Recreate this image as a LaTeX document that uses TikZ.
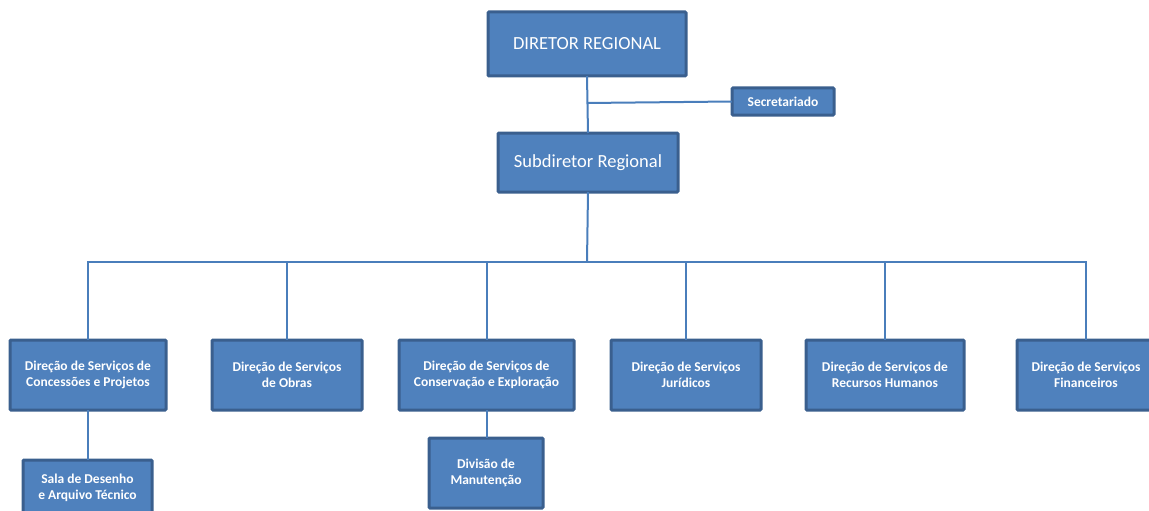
\documentclass[tikz,border=0pt]{standalone}
\usepackage{fontspec}
\setmainfont{Carlito}
\definecolor{boxfill}{HTML}{4F81BD}
\definecolor{boxedge}{HTML}{3A5F8E}
\definecolor{wire}{HTML}{4A7EBB}
\begin{document}
\begin{tikzpicture}[x=1pt,y=-1pt,
  orgbox/.style={draw=boxedge, fill=boxfill, line width=3pt, rounded corners=1pt,
    text=white, align=center, inner sep=0pt, outer sep=0pt},
  topbox/.style={orgbox, font=\fontsize{18.5}{22}\selectfont},
  unitbox/.style={orgbox, font=\bfseries\fontsize{13.5}{16}\selectfont, minimum height=70pt},
  wireline/.style={draw=wire, line width=2pt}]
\useasboundingbox (0,0) rectangle (1149,511);
\clip (0,0) rectangle (1149,511);
\node[topbox, minimum width=198pt, minimum height=64pt] (dir) at (587,44) {DIRETOR REGIONAL};
\node[orgbox, font=\bfseries\fontsize{13.5}{16}\selectfont, minimum width=102pt, minimum height=27pt] (sec) at (783,101.5) {Secretariado};
\node[topbox, minimum width=180pt, minimum height=59pt] (sub) at (588,162.5) {Subdiretor Regional};
\node[unitbox, minimum width=156pt] (b1) at (88,375) {Direção de Serviços de\\Concessões e Projetos};
\node[unitbox, minimum width=150pt] (b2) at (287,375) {Direção de Serviços\\de Obras};
\node[unitbox, minimum width=175pt] (b3) at (486.5,375) {Direção de Serviços de\\Conservação e Exploração};
\node[unitbox, minimum width=150pt] (b4) at (686,375) {Direção de Serviços\\Jurídicos};
\node[unitbox, minimum width=158pt] (b5) at (885,375) {Direção de Serviços de\\Recursos Humanos};
\node[unitbox, minimum width=138pt] (b6) at (1086,375) {Direção de Serviços\\Financeiros};
\node[unitbox, minimum width=129pt, minimum height=56pt] (sala) at (87.5,488) {Sala de Desenho\\e Arquivo Técnico};
\node[unitbox, minimum width=114pt] (div) at (486,473) {Divisão de\\Manutenção};
\coordinate (jsec) at (587,103);
\coordinate (bus) at (587,262);
\draw[wireline] (dir.south) -- (sub.north);
\draw[wireline] (jsec) -- (sec.west);
\draw[wireline] (sub.south) -- (bus);
\draw[wireline] (b1.north) |- (bus) -| (b6.north);
\foreach \b in {b2,b3,b4,b5} {\draw[wireline] (\b.north) -- (\b.north |- bus);}
\draw[wireline] (b1.south) -- (b1.south |- sala.north);
\draw[wireline] (b3.south) -- (b3.south |- div.north);
\end{tikzpicture}
\end{document}
